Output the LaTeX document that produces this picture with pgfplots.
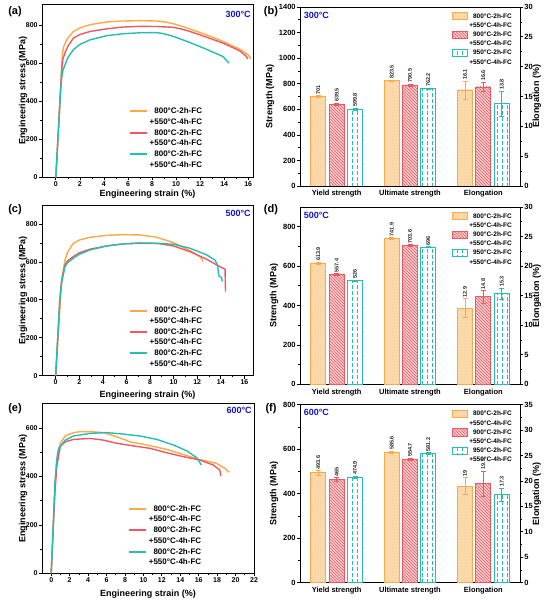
\documentclass[border=0pt]{standalone}
\usepackage{fontspec}
\setmainfont{Liberation Sans}
\usepackage{pgfplots}
\pgfplotsset{compat=1.18}
\usetikzlibrary{patterns}
\definecolor{orangeC}{RGB}{250,170,70}
\definecolor{orangeL}{RGB}{252,226,190}
\definecolor{redC}{RGB}{238,88,98}
\definecolor{redL}{RGB}{248,205,205}
\definecolor{tealC}{RGB}{38,190,178}
\definecolor{blueT}{RGB}{20,20,200}
\pgfdeclarepatternformonly{vdashes}{\pgfqpoint{-1pt}{-1pt}}{\pgfqpoint{6pt}{7pt}}{\pgfqpoint{5pt}{6pt}}{%
  \pgfsetlinewidth{1pt}%
  \pgfpathmoveto{\pgfqpoint{2.5pt}{1pt}}%
  \pgfpathlineto{\pgfqpoint{2.5pt}{4.5pt}}%
  \pgfusepath{stroke}}
\pgfplotsset{
  base/.style={scale only axis, anchor=south west,
    /pgf/number format/assume math mode=true,
    /pgf/number format/1000 sep={},
    axis line style={line width=0.7pt},
    every tick/.style={line width=0.7pt, black},
    tick align=outside, major tick length=3pt, minor tick length=1.8pt,
    tick pos=left, font=\bfseries,
    label style={font=\fontsize{9}{10}\selectfont\bfseries}},
  curve/.style={base, width=211pt,
    tick label style={font=\fontsize{7}{8}\selectfont\bfseries, inner sep=1.2pt},
    minor x tick num=1, minor y tick num=1, ymin=0,
    xlabel={Engineering strain (\%)}, ylabel={Engineering stress (MPa)},
    ylabel shift=-6pt,
    legend cell align=right,
    legend style={draw=none, fill=none, inner sep=0pt, anchor=north west,
      font=\fontsize{8}{9}\selectfont\bfseries,
      nodes={text height=6pt, text depth=1.5pt, inner ysep=1.6pt, inner xsep=2pt}},
    legend image code/.code={\draw[##1, line width=2pt] (0pt,0pt) -- (17pt,0pt);}},
  cl/.style={line width=1.4pt, forget plot},
  barax/.style={base, width=220pt, xmin=-0.5, xmax=2.5,
    tick label style={font=\fontsize{7.5}{8.5}\selectfont\bfseries, inner sep=1.2pt},
    minor y tick num=1, ymin=0},
  bar1/.style={barax, xtick={0,1,2}, xticklabels={Yield strength, Ultimate strength, Elongation},
    major x tick style={draw=none}, ylabel={Strength (MPa)},
    legend cell align=right,
    legend style={draw=none, fill=none, inner sep=0pt, anchor=north west, at={(0.69,0.975)},
      font=\fontsize{6.5}{7.5}\selectfont\bfseries,
      nodes={text height=5pt, text depth=1.2pt, inner ysep=1.5pt, inner xsep=1.5pt}},
    legend image code/.code={\draw[##1] (0pt,-3.6pt) rectangle (15pt,3.6pt);}},
  bar2/.style={barax, axis x line=none, axis y line*=right, ytick pos=right, yticklabel pos=right,
    ylabel={Elongation (\%)}, ylabel shift=-5pt},
  bcommon/.style={ybar, bar width=15pt, bar shift=0pt, line width=0.8pt, forget plot,
    error bars/y dir=both, error bars/y explicit},
  ob/.style={bcommon, draw=orangeC, fill=orangeL, postaction={pattern=crosshatch, pattern color=orangeC!55},
    error bars/error bar style={orangeC, line width=0.6pt},
    error bars/error mark options={rotate=90, mark size=2.5pt, orangeC, line width=0.6pt}},
  rb/.style={bcommon, draw=redC, fill=redL, postaction={pattern=north west lines, pattern color=redC},
    error bars/error bar style={redC, line width=0.6pt},
    error bars/error mark options={rotate=90, mark size=2.5pt, redC, line width=0.6pt}},
  tb/.style={bcommon, draw=tealC, fill=white, postaction={pattern=vdashes, pattern color=tealC},
    error bars/error bar style={tealC, line width=0.6pt},
    error bars/error mark options={rotate=90, mark size=2.5pt, tealC, line width=0.6pt}},
  oleg/.style={draw=orangeC, line width=0.8pt, fill=orangeL, postaction={pattern=crosshatch, pattern color=orangeC!55}},
  rleg/.style={draw=redC, line width=0.8pt, fill=redL, postaction={pattern=north west lines, pattern color=redC}},
  tleg/.style={draw=tealC, line width=0.8pt, fill=white, postaction={pattern=vdashes, pattern color=tealC}},
  vlab/.style={draw=none, mark=none, forget plot, point meta=explicit symbolic,
    nodes near coords, nodes near coords align=horizontal,
    nodes near coords style={rotate=90, anchor=west, inner sep=1pt, text=black!85,
      font=\fontsize{5.5}{6.5}\selectfont\bfseries}},
}
\begin{document}
\begin{tikzpicture}
\useasboundingbox (0,0) rectangle (550pt,602pt);
% ---------------- (a)
\begin{axis}[curve, at={(42pt,424.7pt)}, height=172.8pt,
  xmin=-1.15, xmax=16.4, ymax=910, xtick={0,2,...,16}, ytick={0,200,...,800},
  xlabel shift=-1pt,
  legend style={at={(0.41,0.413)}}]
\addplot[cl, orangeC] coordinates {(0,0) (0.2,230) (0.4,470) (0.5,600) (0.55,655) (0.65,688) (0.9,725) (1.46,768) (2.0,786) (2.85,804) (4.24,818) (5.5,823) (7.0,825) (8.4,823) (9.1,818) (9.77,809) (10.5,795) (11.15,781) (12.5,751) (13.9,716) (15.3,675) (16.0,645) (16.15,630) (16.2,622)};
\addplot[cl, redC] coordinates {(0,0) (0.2,230) (0.4,470) (0.5,575) (0.6,625) (0.8,662) (1.0,690) (1.46,733) (2.0,752) (2.85,768) (4.24,782) (5.5,791) (7.0,795) (8.4,794) (9.77,790) (10.5,780) (11.15,768) (12.5,739) (13.9,707) (15.3,666) (15.86,636) (15.95,622)};
\addplot[cl, tealC] coordinates {(0,0) (0.2,230) (0.4,460) (0.5,530) (0.6,565) (0.77,593) (1.0,630) (1.46,672) (2.0,700) (2.85,724) (4.24,746) (5.6,756) (7.0,761) (8.4,762) (9.0,756) (9.77,742) (11.15,710) (12.5,675) (13.9,636) (14.3,608) (14.4,601)};
\addlegendimage{orangeC}\addlegendentry{800°C-2h-FC}
\addlegendimage{empty legend}\addlegendentry{+550°C-4h-FC}
\addlegendimage{redC}\addlegendentry{800°C-2h-FC}
\addlegendimage{empty legend}\addlegendentry{+550°C-4h-FC}
\addlegendimage{tealC}\addlegendentry{800°C-2h-FC}
\addlegendimage{empty legend}\addlegendentry{+550°C-4h-FC}
\node[anchor=east, text=blueT, font=\fontsize{9}{10}\selectfont\bfseries, inner sep=1pt] at (rel axis cs:0.995,0.943) {300°C};
\end{axis}
% ---------------- (c)
\begin{axis}[curve, at={(42pt,226.3pt)}, height=170.7pt,
  xmin=-1.16, xmax=16.73, ymax=900, xtick={0,2,...,16}, ytick={0,200,...,800},
  xlabel shift=1pt,
  legend style={at={(0.41,0.414)}}]
\addplot[cl, orangeC] coordinates {(0,0) (0.2,200) (0.4,400) (0.55,520) (0.7,580) (0.79,610) (1.0,650) (1.49,698) (2.0,715) (2.91,730) (4.32,740) (5.73,744) (7.15,742) (8.57,730) (9.98,702) (11.39,659) (12.24,628) (12.43,612) (12.45,600)};
\addplot[cl, redC] coordinates {(0,0) (0.2,230) (0.35,400) (0.5,500) (0.79,584) (1.0,605) (1.49,628) (2.0,648) (2.91,667) (4.32,684) (5.73,695) (7.15,700) (8.57,698) (9.98,684) (11.39,654) (12.8,614) (13.65,584) (14.36,561) (14.38,500) (14.4,443)};
\addplot[cl, tealC] coordinates {(0,0) (0.2,230) (0.35,400) (0.5,490) (0.79,575) (1.0,595) (1.49,619) (2.0,640) (2.91,663) (4.32,684) (5.73,695) (7.15,698) (8.57,698) (9.98,693) (11.39,672) (12.8,637) (13.5,610) (13.65,593) (13.75,575) (13.8,540) (13.85,526) (14.0,520) (14.08,514) (14.12,496)};
\addlegendimage{orangeC}\addlegendentry{800°C-2h-FC}
\addlegendimage{empty legend}\addlegendentry{+550°C-4h-FC}
\addlegendimage{redC}\addlegendentry{800°C-2h-FC}
\addlegendimage{empty legend}\addlegendentry{+550°C-4h-FC}
\addlegendimage{tealC}\addlegendentry{800°C-2h-FC}
\addlegendimage{empty legend}\addlegendentry{+550°C-4h-FC}
\node[anchor=east, text=blueT, font=\fontsize{9}{10}\selectfont\bfseries, inner sep=1pt] at (rel axis cs:0.995,0.951) {500°C};
\end{axis}
% ---------------- (e)
\begin{axis}[curve, at={(42pt,28.7pt)}, height=169.5pt, width=212pt,
  xmin=-1, xmax=22, ymax=700, xtick={0,2,...,22}, ytick={0,200,...,600},
  xlabel shift=2.5pt,
  legend style={at={(0.404,0.412)}}]
\addplot[cl, orangeC] coordinates {(0,0) (0.2,180) (0.4,360) (0.6,460) (0.98,537) (1.52,567) (2.42,581) (3.2,585) (4.23,585) (5.67,581) (7.11,564) (8.56,543) (10.37,530) (12.5,512) (14.3,491) (16.1,470) (17.95,454) (18.85,433) (19.3,417)};
\addplot[cl, redC] coordinates {(0,0) (0.2,170) (0.4,330) (0.6,440) (0.98,523) (1.52,543) (2.42,553) (4.23,557) (5.67,550) (7.11,537) (8.92,526) (10.73,516) (12.5,498) (14.3,482) (16.1,468) (17.6,447) (18.3,426) (18.4,402)};
\addplot[cl, tealC] coordinates {(0,0) (0.2,180) (0.4,370) (0.6,470) (0.8,516) (1.52,550) (2.42,567) (4.23,578) (6.03,581) (7.83,575) (9.64,567) (11.45,553) (13.25,530) (14.7,506) (15.8,477) (16.3,447)};
\addlegendimage{orangeC}\addlegendentry{800°C-2h-FC}
\addlegendimage{empty legend}\addlegendentry{+550°C-4h-FC}
\addlegendimage{redC}\addlegendentry{800°C-2h-FC}
\addlegendimage{empty legend}\addlegendentry{+550°C-4h-FC}
\addlegendimage{tealC}\addlegendentry{800°C-2h-FC}
\addlegendimage{empty legend}\addlegendentry{+550°C-4h-FC}
\node[anchor=east, text=blueT, font=\fontsize{9}{10}\selectfont\bfseries, inner sep=1pt] at (rel axis cs:0.995,0.963) {600°C};
\end{axis}
% ---------------- (b)
\begin{axis}[bar1, at={(300pt,416pt)}, height=179pt, ymax=1400, ytick={0,200,...,1400}]
\addplot[ob] coordinates {(-0.25,701) +- (0,5) (0.75,823.5) +- (0,5)};
\addplot[rb] coordinates {(0,639.5) +- (0,10) (1,790.5) +- (0,8)};
\addplot[tb] coordinates {(0.25,599.8) +- (0,10) (1.25,762.2) +- (0,3)};
\addplot[vlab] coordinates {(-0.25,706)[701] (0,649.5)[639.5] (0.25,609.8)[599.8] (0.75,828.5)[823.5] (1,798.5)[790.5] (1.25,765.2)[762.2]};
\addlegendimage{oleg}\addlegendentry{800°C-2h-FC}
\addlegendimage{empty legend}\addlegendentry{+550°C-4h-FC}
\addlegendimage{rleg}\addlegendentry{900°C-2h-FC}
\addlegendimage{empty legend}\addlegendentry{+550°C-4h-FC}
\addlegendimage{tleg}\addlegendentry{950°C-2h-FC}
\addlegendimage{empty legend}\addlegendentry{+550°C-4h-FC}
\node[anchor=west, text=blueT, font=\fontsize{9}{10}\selectfont\bfseries, inner sep=1pt] at (rel axis cs:0.012,0.955) {300°C};
\end{axis}
\begin{axis}[bar2, at={(300pt,416pt)}, height=179pt, ymax=30, ytick={0,5,...,30}]
\addplot[ob] coordinates {(1.75,16.1) +- (0,1.5)};
\addplot[rb] coordinates {(2,16.6) +- (0,0.8)};
\addplot[tb] coordinates {(2.25,13.8) +- (0,2.1)};
\addplot[vlab] coordinates {(1.75,17.6)[16.1] (2,17.4)[16.6] (2.25,15.9)[13.8]};
\end{axis}
% ---------------- (d)
\begin{axis}[bar1, at={(300pt,217.7pt)}, height=177.3pt, ymax=900, ytick={0,200,...,800}]
\addplot[ob] coordinates {(-0.25,613.9) +- (0,6) (0.75,741.9) +- (0,4)};
\addplot[rb] coordinates {(0,557.4) +- (0,4) (1,703.6) +- (0,5)};
\addplot[tb] coordinates {(0.25,526) +- (0,3) (1.25,696) +- (0,3)};
\addplot[vlab] coordinates {(-0.25,619.9)[613.9] (0,561.4)[557.4] (0.25,529)[526] (0.75,745.9)[741.9] (1,708.6)[703.6] (1.25,699)[696]};
\addlegendimage{oleg}\addlegendentry{800°C-2h-FC}
\addlegendimage{empty legend}\addlegendentry{+550°C-4h-FC}
\addlegendimage{rleg}\addlegendentry{900°C-2h-FC}
\addlegendimage{empty legend}\addlegendentry{+550°C-4h-FC}
\addlegendimage{tleg}\addlegendentry{950°C-2h-FC}
\addlegendimage{empty legend}\addlegendentry{+550°C-4h-FC}
\node[anchor=west, text=blueT, font=\fontsize{9}{10}\selectfont\bfseries, inner sep=1pt] at (rel axis cs:0.012,0.955) {500°C};
\end{axis}
\begin{axis}[bar2, at={(300pt,217.7pt)}, height=177.3pt, ymax=30, ytick={0,5,...,30}]
\addplot[ob] coordinates {(1.75,12.9) +- (0,1.6)};
\addplot[rb] coordinates {(2,14.8) +- (0,1.1)};
\addplot[tb] coordinates {(2.25,15.3) +- (0,1.0)};
\addplot[vlab] coordinates {(1.75,14.5)[12.9] (2,15.9)[14.8] (2.25,16.3)[15.3]};
\end{axis}
% ---------------- (f)
\begin{axis}[bar1, at={(300pt,19.3pt)}, height=178pt, ymax=800, ytick={0,200,...,800}]
\addplot[ob] coordinates {(-0.25,493.6) +- (0,10) (0.75,585.6) +- (0,6)};
\addplot[rb] coordinates {(0,465) +- (0,8) (1,554.7) +- (0,6)};
\addplot[tb] coordinates {(0.25,474.9) +- (0,4) (1.25,581.2) +- (0,3)};
\addplot[vlab] coordinates {(-0.25,503.6)[493.6] (0,473)[465] (0.25,478.9)[474.9] (0.75,591.6)[585.6] (1,560.7)[554.7] (1.25,584.2)[581.2]};
\addlegendimage{oleg}\addlegendentry{800°C-2h-FC}
\addlegendimage{empty legend}\addlegendentry{+550°C-4h-FC}
\addlegendimage{rleg}\addlegendentry{900°C-2h-FC}
\addlegendimage{empty legend}\addlegendentry{+550°C-4h-FC}
\addlegendimage{tleg}\addlegendentry{950°C-2h-FC}
\addlegendimage{empty legend}\addlegendentry{+550°C-4h-FC}
\node[anchor=west, text=blueT, font=\fontsize{9}{10}\selectfont\bfseries, inner sep=1pt] at (rel axis cs:0.012,0.955) {600°C};
\end{axis}
\begin{axis}[bar2, at={(300pt,19.3pt)}, height=178pt, ymax=35, ytick={0,5,...,35}]
\addplot[ob] coordinates {(1.75,19) +- (0,1.7)};
\addplot[rb] coordinates {(2,19.5) +- (0,2.5)};
\addplot[tb] coordinates {(2.25,17.3) +- (0,1.3)};
\addplot[vlab] coordinates {(1.75,20.7)[19] (2,22)[19.5] (2.25,18.6)[17.3]};
\end{axis}
% panel labels
\node[font=\fontsize{11}{12}\selectfont\bfseries] at (15pt,590pt) {(a)};
\node[font=\fontsize{11}{12}\selectfont\bfseries] at (271pt,590pt) {(b)};
\node[font=\fontsize{11}{12}\selectfont\bfseries] at (15pt,392pt) {(c)};
\node[font=\fontsize{11}{12}\selectfont\bfseries] at (271pt,392pt) {(d)};
\node[font=\fontsize{11}{12}\selectfont\bfseries] at (15pt,193pt) {(e)};
\node[font=\fontsize{11}{12}\selectfont\bfseries] at (271pt,193pt) {(f)};
\end{tikzpicture}
\end{document}
